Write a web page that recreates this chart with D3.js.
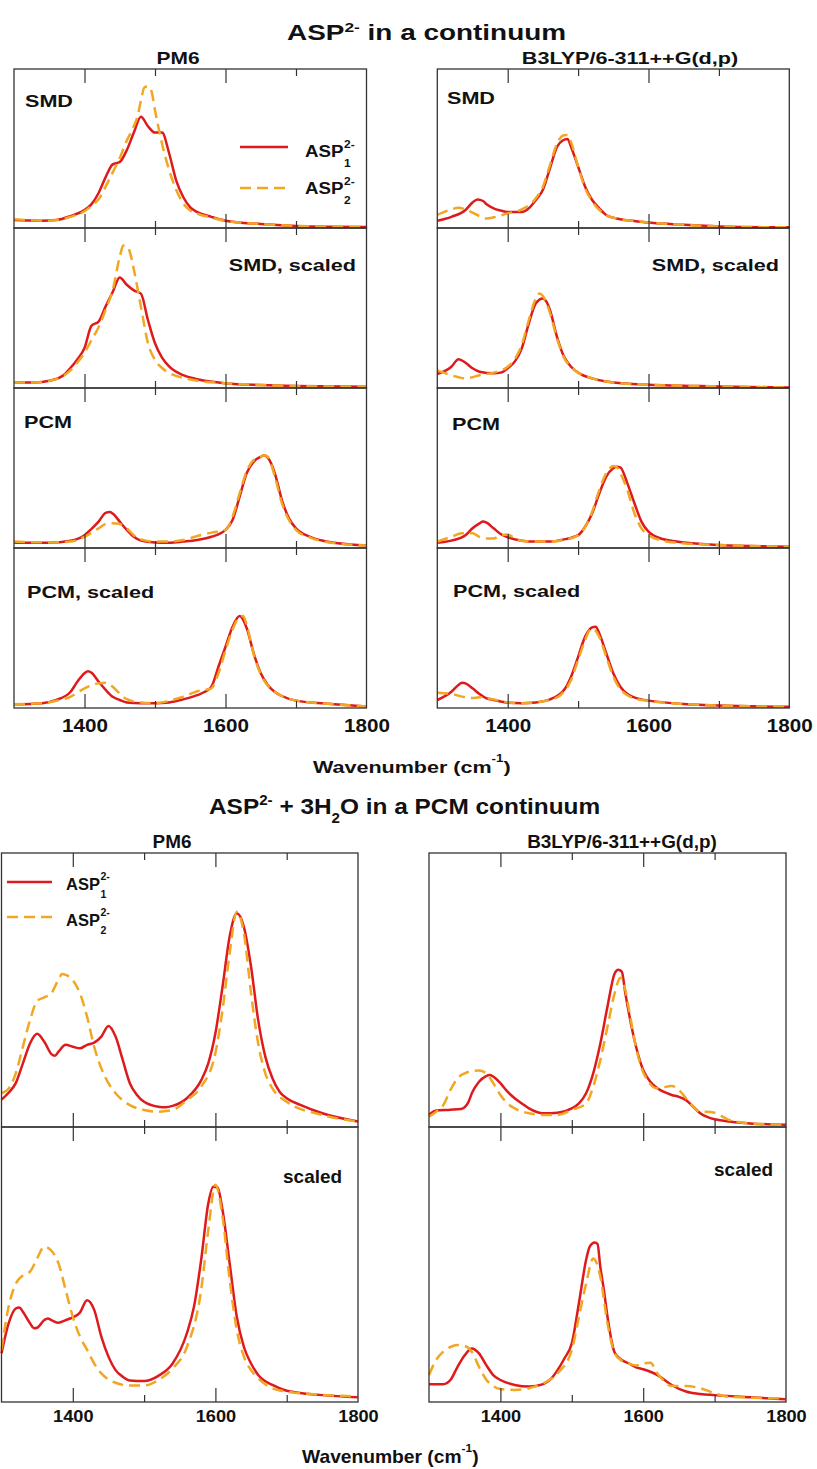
<!DOCTYPE html>
<html>
<head>
<meta charset="utf-8">
<script src="https://cdn.jsdelivr.net/npm/d3@7"></script>
<style>
  body { margin: 0; background: #fff; }
  svg { display: block; }
  text { font-family: "Liberation Sans", Arial, Helvetica, sans-serif; font-weight: bold; fill: #111; }
</style>
</head>
<body>
<svg id="fig" width="817" height="1469"></svg>
<script>
// ---------- axis values ----------
const waveDomain = [1300, 1800];
const majorTicks = [1400, 1600];
const minorTicks = [1500, 1700];
const tickLabels = [1400, 1600, 1800];
const seriesNames = ["1", "2"];   // ASP_1^2- and ASP_2^2- conformers

// ---------- ASP2- in a continuum : PM6 ----------
const pm6SmdA1 = [[1300,0.05],[1320,0.047],[1340,0.045],[1360,0.05],[1380,0.075],[1400,0.113],[1410,0.15],[1420,0.22],[1430,0.32],[1440,0.40],[1450,0.415],[1460,0.49],[1470,0.60],[1480,0.70],[1490,0.64],[1500,0.60],[1510,0.60],[1520,0.47],[1530,0.30],[1540,0.195],[1550,0.13],[1560,0.10],[1580,0.07],[1600,0.046],[1650,0.025],[1700,0.013],[1750,0.008],[1800,0.006]];
const pm6SmdA2 = [[1300,0.055],[1320,0.05],[1340,0.045],[1360,0.05],[1380,0.07],[1400,0.105],[1410,0.14],[1420,0.18],[1430,0.26],[1440,0.35],[1450,0.44],[1460,0.55],[1470,0.64],[1475,0.70],[1480,0.80],[1485,0.885],[1490,0.89],[1495,0.86],[1500,0.74],[1510,0.53],[1520,0.365],[1530,0.24],[1540,0.155],[1550,0.11],[1560,0.09],[1580,0.065],[1600,0.045],[1650,0.025],[1700,0.013],[1750,0.008],[1800,0.006]];
const pm6SmdScA1 = [[1300,0.035],[1330,0.035],[1350,0.045],[1370,0.08],[1380,0.125],[1390,0.18],[1400,0.25],[1410,0.39],[1420,0.415],[1430,0.51],[1440,0.60],[1450,0.69],[1460,0.645],[1470,0.61],[1480,0.59],[1490,0.425],[1500,0.28],[1510,0.19],[1520,0.135],[1540,0.08],[1560,0.055],[1600,0.03],[1650,0.018],[1700,0.012],[1800,0.008]];
const pm6SmdScA2 = [[1300,0.035],[1330,0.035],[1350,0.045],[1370,0.075],[1380,0.11],[1390,0.16],[1400,0.22],[1410,0.30],[1420,0.38],[1430,0.49],[1440,0.61],[1450,0.82],[1455,0.89],[1460,0.885],[1465,0.84],[1470,0.74],[1480,0.51],[1490,0.28],[1500,0.175],[1510,0.125],[1520,0.094],[1540,0.063],[1560,0.045],[1600,0.03],[1650,0.018],[1700,0.012],[1800,0.008]];
const pm6PcmA1 = [[1300,0.033],[1350,0.033],[1380,0.045],[1400,0.08],[1410,0.12],[1420,0.165],[1430,0.22],[1436,0.225],[1440,0.215],[1450,0.165],[1460,0.113],[1470,0.07],[1480,0.046],[1500,0.035],[1520,0.033],[1540,0.04],[1560,0.05],[1580,0.07],[1600,0.113],[1610,0.175],[1620,0.32],[1630,0.467],[1640,0.54],[1650,0.57],[1655,0.58],[1660,0.565],[1670,0.467],[1680,0.30],[1690,0.185],[1700,0.123],[1720,0.07],[1740,0.044],[1760,0.03],[1800,0.015]];
const pm6PcmA2 = [[1300,0.04],[1350,0.035],[1380,0.04],[1400,0.07],[1420,0.123],[1430,0.15],[1440,0.154],[1450,0.15],[1460,0.123],[1470,0.08],[1480,0.054],[1500,0.04],[1520,0.04],[1540,0.05],[1560,0.075],[1580,0.096],[1600,0.113],[1610,0.196],[1620,0.34],[1630,0.48],[1640,0.55],[1650,0.57],[1655,0.58],[1660,0.57],[1670,0.447],[1680,0.28],[1690,0.175],[1700,0.113],[1720,0.065],[1740,0.04],[1760,0.028],[1800,0.015]];
const pm6PcmScA1 = [[1300,0.023],[1340,0.03],[1360,0.05],[1380,0.10],[1390,0.165],[1400,0.217],[1405,0.23],[1410,0.22],[1420,0.165],[1430,0.113],[1440,0.07],[1450,0.05],[1460,0.035],[1480,0.03],[1500,0.03],[1520,0.035],[1540,0.054],[1560,0.08],[1570,0.10],[1580,0.133],[1590,0.258],[1600,0.383],[1610,0.508],[1620,0.575],[1630,0.50],[1640,0.342],[1650,0.217],[1660,0.144],[1670,0.10],[1680,0.075],[1700,0.046],[1750,0.025],[1800,0.01]];
const pm6PcmScA2 = [[1300,0.023],[1340,0.03],[1360,0.045],[1380,0.07],[1400,0.123],[1420,0.154],[1430,0.158],[1440,0.133],[1450,0.09],[1460,0.055],[1480,0.035],[1500,0.03],[1520,0.045],[1540,0.07],[1560,0.105],[1580,0.123],[1590,0.217],[1600,0.36],[1610,0.49],[1620,0.57],[1625,0.575],[1630,0.52],[1640,0.335],[1650,0.21],[1660,0.14],[1670,0.10],[1680,0.075],[1700,0.046],[1750,0.025],[1800,0.01]];

// ---------- ASP2- in a continuum : B3LYP/6-311++G(d,p) ----------
const dftSmdA1 = [[1300,0.045],[1320,0.07],[1340,0.113],[1350,0.16],[1357,0.18],[1365,0.17],[1370,0.15],[1380,0.124],[1390,0.11],[1400,0.10],[1420,0.10],[1430,0.124],[1440,0.176],[1450,0.24],[1460,0.375],[1470,0.51],[1478,0.55],[1485,0.56],[1490,0.51],[1500,0.386],[1510,0.26],[1520,0.176],[1530,0.124],[1540,0.082],[1560,0.055],[1580,0.044],[1600,0.034],[1650,0.02],[1700,0.01],[1800,0.004]];
const dftSmdA2 = [[1300,0.082],[1320,0.117],[1330,0.128],[1340,0.117],[1360,0.075],[1370,0.06],[1380,0.067],[1400,0.092],[1420,0.117],[1440,0.187],[1450,0.26],[1460,0.396],[1470,0.53],[1480,0.584],[1485,0.585],[1490,0.54],[1500,0.386],[1510,0.25],[1520,0.168],[1540,0.082],[1560,0.055],[1580,0.044],[1600,0.034],[1650,0.02],[1700,0.01],[1800,0.004]];
const dftSmdScA1 = [[1300,0.0875],[1320,0.133],[1330,0.18],[1340,0.158],[1350,0.123],[1360,0.102],[1380,0.092],[1390,0.096],[1400,0.123],[1410,0.165],[1420,0.248],[1430,0.404],[1440,0.53],[1450,0.56],[1455,0.54],[1460,0.4875],[1470,0.32],[1480,0.196],[1490,0.133],[1500,0.096],[1520,0.06],[1540,0.04],[1600,0.02],[1700,0.01],[1800,0.003]];
const dftSmdScA2 = [[1300,0.11],[1320,0.08],[1340,0.06],[1360,0.08],[1380,0.096],[1400,0.133],[1410,0.18],[1420,0.27],[1430,0.425],[1440,0.56],[1445,0.59],[1450,0.575],[1460,0.47],[1470,0.31],[1480,0.19],[1490,0.13],[1500,0.096],[1520,0.06],[1540,0.04],[1600,0.02],[1700,0.01],[1800,0.003]];
const dftPcmA1 = [[1300,0.033],[1320,0.046],[1340,0.08],[1350,0.123],[1360,0.154],[1365,0.165],[1370,0.158],[1380,0.123],[1390,0.0875],[1400,0.067],[1420,0.046],[1440,0.04],[1460,0.04],[1480,0.054],[1500,0.08],[1510,0.133],[1520,0.217],[1530,0.34],[1540,0.446],[1550,0.498],[1555,0.508],[1560,0.504],[1570,0.404],[1580,0.28],[1590,0.165],[1600,0.102],[1620,0.056],[1640,0.04],[1700,0.019],[1800,0.008]];
const dftPcmA2 = [[1300,0.04],[1320,0.07],[1335,0.092],[1350,0.092],[1360,0.07],[1370,0.06],[1380,0.06],[1390,0.08],[1400,0.085],[1410,0.06],[1420,0.046],[1440,0.04],[1460,0.04],[1480,0.05],[1500,0.08],[1520,0.227],[1530,0.362],[1540,0.467],[1550,0.513],[1555,0.505],[1560,0.467],[1570,0.362],[1580,0.217],[1590,0.123],[1600,0.08],[1620,0.046],[1640,0.033],[1700,0.019],[1800,0.008]];
const dftPcmScA1 = [[1300,0.05],[1320,0.102],[1330,0.144],[1335,0.158],[1340,0.154],[1350,0.123],[1360,0.0875],[1370,0.06],[1380,0.05],[1400,0.033],[1420,0.03],[1440,0.035],[1460,0.054],[1470,0.075],[1480,0.1125],[1490,0.196],[1500,0.32],[1510,0.446],[1520,0.504],[1525,0.508],[1530,0.467],[1540,0.342],[1550,0.217],[1560,0.133],[1570,0.0875],[1590,0.054],[1600,0.046],[1650,0.025],[1700,0.015],[1800,0.008]];
const dftPcmScA2 = [[1300,0.096],[1320,0.0875],[1340,0.067],[1350,0.062],[1360,0.067],[1380,0.054],[1400,0.035],[1420,0.03],[1460,0.05],[1480,0.102],[1490,0.175],[1500,0.30],[1510,0.425],[1515,0.477],[1520,0.498],[1530,0.446],[1540,0.32],[1550,0.196],[1560,0.117],[1570,0.08],[1590,0.05],[1600,0.044],[1650,0.025],[1700,0.015],[1800,0.008]];

// ---------- ASP2- + 3H2O in a PCM continuum ----------
const pm6WatA1 = [[1300,0.10],[1310,0.125],[1320,0.16],[1330,0.232],[1340,0.305],[1350,0.34],[1360,0.311],[1370,0.266],[1375,0.26],[1380,0.275],[1390,0.30],[1400,0.293],[1410,0.287],[1420,0.30],[1430,0.308],[1440,0.33],[1450,0.369],[1460,0.33],[1470,0.245],[1480,0.16],[1490,0.117],[1500,0.092],[1520,0.074],[1530,0.072],[1540,0.077],[1560,0.105],[1580,0.17],[1590,0.232],[1600,0.342],[1610,0.512],[1620,0.695],[1630,0.78],[1640,0.73],[1650,0.585],[1660,0.39],[1670,0.257],[1680,0.178],[1690,0.129],[1700,0.105],[1720,0.08],[1750,0.05],[1800,0.02]];
const pm6WatA2 = [[1300,0.123],[1310,0.14],[1320,0.196],[1330,0.293],[1340,0.39],[1350,0.46],[1360,0.473],[1370,0.488],[1380,0.539],[1385,0.558],[1390,0.555],[1400,0.536],[1410,0.488],[1420,0.403],[1430,0.293],[1440,0.214],[1450,0.16],[1460,0.123],[1480,0.08],[1500,0.062],[1520,0.056],[1540,0.062],[1560,0.098],[1580,0.147],[1600,0.27],[1610,0.427],[1620,0.634],[1630,0.786],[1640,0.707],[1650,0.488],[1660,0.305],[1670,0.196],[1680,0.141],[1700,0.092],[1750,0.044],[1800,0.02]];
const pm6WatScA1 = [[1300,0.177],[1310,0.286],[1320,0.34],[1325,0.344],[1330,0.328],[1340,0.286],[1346,0.268],[1350,0.27],[1360,0.298],[1365,0.304],[1370,0.298],[1380,0.288],[1390,0.298],[1400,0.308],[1410,0.325],[1420,0.37],[1430,0.335],[1440,0.238],[1450,0.165],[1460,0.116],[1470,0.092],[1480,0.078],[1500,0.076],[1520,0.095],[1540,0.14],[1560,0.25],[1570,0.347],[1580,0.516],[1590,0.722],[1597,0.783],[1603,0.78],[1610,0.698],[1620,0.504],[1630,0.31],[1640,0.20],[1650,0.14],[1660,0.098],[1680,0.062],[1700,0.041],[1750,0.025],[1800,0.017]];
const pm6WatScA2 = [[1300,0.19],[1310,0.347],[1320,0.43],[1330,0.46],[1340,0.474],[1350,0.522],[1360,0.565],[1370,0.55],[1380,0.504],[1390,0.407],[1400,0.31],[1410,0.238],[1420,0.19],[1430,0.14],[1440,0.104],[1460,0.07],[1480,0.06],[1500,0.06],[1520,0.08],[1540,0.122],[1560,0.20],[1580,0.407],[1590,0.625],[1600,0.79],[1610,0.674],[1620,0.444],[1630,0.262],[1640,0.165],[1650,0.116],[1660,0.086],[1680,0.05],[1700,0.038],[1750,0.026],[1800,0.02]];
const dftWatA1 = [[1300,0.044],[1310,0.06],[1330,0.063],[1345,0.066],[1355,0.09],[1360,0.123],[1370,0.165],[1380,0.186],[1385,0.19],[1390,0.184],[1400,0.16],[1410,0.129],[1420,0.105],[1430,0.086],[1440,0.068],[1460,0.05],[1480,0.052],[1500,0.068],[1510,0.086],[1520,0.123],[1530,0.196],[1540,0.305],[1550,0.44],[1560,0.56],[1565,0.574],[1570,0.567],[1575,0.488],[1580,0.415],[1590,0.293],[1600,0.208],[1610,0.165],[1620,0.141],[1640,0.117],[1650,0.11],[1660,0.098],[1670,0.074],[1680,0.05],[1700,0.028],[1750,0.013],[1800,0.008]];
const dftWatA2 = [[1300,0.038],[1310,0.056],[1320,0.08],[1330,0.135],[1340,0.178],[1350,0.196],[1360,0.204],[1370,0.206],[1380,0.196],[1390,0.16],[1400,0.117],[1410,0.086],[1420,0.068],[1440,0.05],[1460,0.044],[1480,0.044],[1500,0.062],[1520,0.086],[1530,0.147],[1540,0.245],[1550,0.366],[1560,0.488],[1568,0.545],[1575,0.50],[1580,0.43],[1590,0.29],[1600,0.2],[1620,0.141],[1640,0.15],[1650,0.135],[1660,0.105],[1680,0.056],[1690,0.056],[1700,0.052],[1720,0.026],[1750,0.013],[1800,0.008]];
const dftWatScA1 = [[1300,0.065],[1320,0.065],[1330,0.08],[1340,0.128],[1350,0.17],[1360,0.195],[1370,0.177],[1380,0.135],[1390,0.098],[1400,0.08],[1420,0.062],[1440,0.056],[1460,0.065],[1470,0.082],[1480,0.116],[1490,0.16],[1500,0.213],[1510,0.36],[1520,0.516],[1525,0.564],[1532,0.58],[1536,0.575],[1540,0.49],[1545,0.407],[1550,0.31],[1560,0.18],[1570,0.153],[1580,0.14],[1590,0.126],[1600,0.119],[1610,0.11],[1620,0.098],[1630,0.08],[1640,0.062],[1660,0.038],[1680,0.029],[1700,0.025],[1750,0.017],[1800,0.01]];
const dftWatScA2 = [[1300,0.098],[1310,0.153],[1320,0.183],[1330,0.2],[1340,0.207],[1350,0.204],[1360,0.183],[1370,0.128],[1380,0.082],[1390,0.058],[1400,0.047],[1420,0.044],[1440,0.05],[1460,0.068],[1480,0.104],[1500,0.189],[1510,0.31],[1520,0.43],[1530,0.522],[1540,0.455],[1550,0.286],[1560,0.177],[1570,0.15],[1580,0.14],[1590,0.133],[1600,0.14],[1610,0.143],[1620,0.104],[1630,0.074],[1640,0.058],[1660,0.058],[1680,0.05],[1700,0.032],[1720,0.019],[1800,0.013]];

// ---------- styling ----------
const RED = "#de1a1c";
const ORANGE = "#f2a722";
const FRAME = "#333";
const LW = 2.5;

const svg = d3.select("#fig");

// Text with horizontal stretch and optional super/subscript segments
function label(parent, x, y, segs, opt) {
  const g = parent.append("g")
    .attr("transform", `translate(${x},${y}) scale(${opt.sx || 1},1)`);
  const t = g.append("text")
    .attr("text-anchor", opt.anchor || "start")
    .style("font-size", opt.size + "px");
  let shift = 0;
  segs.forEach(s => {
    const target = s.sup ? -(opt.supRaise || opt.size * 0.4) : s.sub ? (opt.subDrop || opt.size * 0.4) : 0;
    const sp = t.append("tspan").text(s.t).attr("dy", target - shift);
    if (s.sup || s.sub) sp.style("font-size", (opt.size * 0.62) + "px");
    shift = target;
  });
  return g;
}

// Legend text: ASP with stacked 2- superscript and index subscript
function aspLabel(parent, x, y, idx, opt) {
  const g = parent.append("g").attr("transform", `translate(${x},${y}) scale(${opt.sx},1)`);
  const t = g.append("text").style("font-size", opt.size + "px").text("ASP");
  const w = t.node().getComputedTextLength();
  const small = opt.size * 0.64;
  g.append("text").attr("x", w + 0.5).attr("y", -opt.raise).style("font-size", small + "px").text("2-");
  g.append("text").attr("x", w + 0.5).attr("y", opt.drop).style("font-size", small + "px").text(idx);
}

// One spectrum panel
function panel(x0, x1, yTop, yBot, a1, a2, showLabels, tickOpt) {
  const x = d3.scaleLinear().domain(waveDomain).range([x0, x1]);
  const y = d3.scaleLinear().domain([0, 1]).range([yBot, yTop]);
  const g = svg.append("g");

  const line = d3.line()
    .x(d => x(d[0])).y(d => y(d[1]))
    .curve(d3.curveMonotoneX);

  g.append("path").datum(a1)
    .attr("d", line).attr("fill", "none")
    .attr("stroke", RED).attr("stroke-width", LW).attr("stroke-linejoin", "round");
  g.append("path").datum(a2)
    .attr("d", line).attr("fill", "none")
    .attr("stroke", ORANGE).attr("stroke-width", LW)
    .attr("stroke-dasharray", "11,6");

  // inward ticks on top and bottom edges
  const addTicks = (axisFn, yPos, values, len) => {
    const ax = g.append("g").attr("transform", `translate(0,${yPos})`)
      .call(axisFn(x).tickValues(values).tickSize(-len).tickSizeOuter(0).tickFormat(""));
    ax.select(".domain").remove();
    ax.selectAll("line").attr("stroke", FRAME).attr("stroke-width", 1.2);
  };
  addTicks(d3.axisBottom, yBot, majorTicks, 14);
  addTicks(d3.axisBottom, yBot, minorTicks, 7);
  addTicks(d3.axisTop, yTop, majorTicks, 14);
  addTicks(d3.axisTop, yTop, minorTicks, 7);

  g.append("rect")
    .attr("x", x0).attr("y", yTop)
    .attr("width", x1 - x0).attr("height", yBot - yTop)
    .attr("fill", "none").attr("stroke", FRAME).attr("stroke-width", 1.3);

  if (showLabels) {
    const ax = g.append("g").attr("transform", `translate(0,${yBot})`)
      .call(d3.axisBottom(x).tickValues(tickLabels).tickSize(0).tickFormat(d3.format("d")));
    ax.select(".domain").remove();
    ax.selectAll("text")
      .attr("y", tickOpt.dy).attr("dy", 0)
      .attr("fill", "#111")
      .style("font-size", tickOpt.size + "px")
      .style("font-family", "'Liberation Sans', Arial, sans-serif")
      .style("font-weight", "bold")
      .attr("transform", `scale(${tickOpt.sx},1)`);
  }
  return { x, y, g };
}

// ================= upper figure =================
const SX1 = 1.27;
const topCols = [[14, 366.5], [437.3, 789.3]];
const topRows = [69, 228, 388, 548, 708];
const topData = [
  [[pm6SmdA1, pm6SmdA2], [pm6SmdScA1, pm6SmdScA2], [pm6PcmA1, pm6PcmA2], [pm6PcmScA1, pm6PcmScA2]],
  [[dftSmdA1, dftSmdA2], [dftSmdScA1, dftSmdScA2], [dftPcmA1, dftPcmA2], [dftPcmScA1, dftPcmScA2]]
];
topCols.forEach((c, ci) => {
  topData[ci].forEach((pair, ri) => {
    panel(c[0], c[1], topRows[ri], topRows[ri + 1], pair[0], pair[1], ri === 3,
      { size: 17.5, sx: 1.18, dy: 24 });
  });
});

label(svg, 287, 40, [{ t: "ASP" }, { t: "2-", sup: true }, { t: " in a continuum" }],
  { size: 22, sx: SX1, supRaise: 8.5 });
label(svg, 178, 64, [{ t: "PM6" }], { size: 16.5, sx: SX1, anchor: "middle" });
label(svg, 630, 64, [{ t: "B3LYP/6-311++G(d,p)" }], { size: 17, sx: SX1, anchor: "middle" });

label(svg, 25, 107, [{ t: "SMD" }], { size: 17, sx: SX1 });
label(svg, 447, 104, [{ t: "SMD" }], { size: 17, sx: SX1 });
label(svg, 356, 271, [{ t: "SMD, scaled" }], { size: 17, sx: SX1, anchor: "end" });
label(svg, 779, 271, [{ t: "SMD, scaled" }], { size: 17, sx: SX1, anchor: "end" });
label(svg, 24, 428, [{ t: "PCM" }], { size: 17, sx: SX1 });
label(svg, 452, 430, [{ t: "PCM" }], { size: 17, sx: SX1 });
label(svg, 27, 598, [{ t: "PCM, scaled" }], { size: 17, sx: SX1 });
label(svg, 453, 597, [{ t: "PCM, scaled" }], { size: 17, sx: SX1 });

label(svg, 313, 773, [{ t: "Wavenumber (cm" }, { t: "-1", sup: true }, { t: ")" }],
  { size: 17.3, sx: SX1 * 0.98, supRaise: 11 });

// legend (upper)
svg.append("line").attr("x1", 240).attr("x2", 288).attr("y1", 147).attr("y2", 147)
  .attr("stroke", RED).attr("stroke-width", LW);
svg.append("line").attr("x1", 240).attr("x2", 288).attr("y1", 188).attr("y2", 188)
  .attr("stroke", ORANGE).attr("stroke-width", LW).attr("stroke-dasharray", "11,6");
aspLabel(svg, 305, 157, seriesNames[0], { size: 17, sx: 1.1, raise: 9, drop: 10 });
aspLabel(svg, 305, 194, seriesNames[1], { size: 17, sx: 1.1, raise: 9, drop: 10 });

// ================= lower figure =================
const SX2 = 1.07;
const botCols = [[1.5, 358], [429, 786]];
const botRows = [853, 1127, 1402];
const botData = [
  [[pm6WatA1, pm6WatA2], [pm6WatScA1, pm6WatScA2]],
  [[dftWatA1, dftWatA2], [dftWatScA1, dftWatScA2]]
];
botCols.forEach((c, ci) => {
  botData[ci].forEach((pair, ri) => {
    panel(c[0], c[1], botRows[ri], botRows[ri + 1], pair[0], pair[1], ri === 1,
      { size: 17, sx: 1.07, dy: 20 });
  });
});

label(svg, 209, 814, [{ t: "ASP" }, { t: "2-", sup: true }, { t: " + 3H" }, { t: "2", sub: true }, { t: "O in a PCM continuum" }],
  { size: 22.8, sx: SX2, supRaise: 9, subDrop: 9 });
label(svg, 172, 848, [{ t: "PM6" }], { size: 17.7, sx: SX2, anchor: "middle" });
label(svg, 622, 848, [{ t: "B3LYP/6-311++G(d,p)" }], { size: 17.7, sx: SX2, anchor: "middle" });
label(svg, 342, 1183, [{ t: "scaled" }], { size: 17.7, sx: SX2, anchor: "end" });
label(svg, 773, 1176, [{ t: "scaled" }], { size: 17.7, sx: SX2, anchor: "end" });
label(svg, 302, 1463, [{ t: "Wavenumber (cm" }, { t: "-1", sup: true }, { t: ")" }],
  { size: 17.5, sx: 1.1, supRaise: 11 });

// legend (lower)
svg.append("line").attr("x1", 7).attr("x2", 52).attr("y1", 882).attr("y2", 882)
  .attr("stroke", RED).attr("stroke-width", LW);
svg.append("line").attr("x1", 7).attr("x2", 52).attr("y1", 917).attr("y2", 917)
  .attr("stroke", ORANGE).attr("stroke-width", LW).attr("stroke-dasharray", "11,6");
aspLabel(svg, 66, 890, seriesNames[0], { size: 16.5, sx: 1.0, raise: 10, drop: 8 });
aspLabel(svg, 66, 926, seriesNames[1], { size: 16.5, sx: 1.0, raise: 10, drop: 8 });
</script>
</body>
</html>
